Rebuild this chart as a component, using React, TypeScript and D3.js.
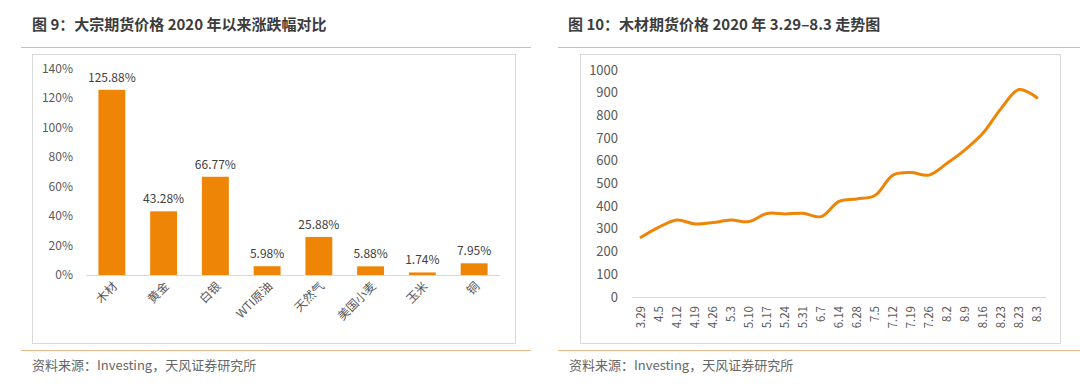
import React from "react";
import * as d3 from "d3";

const barCategories = ["木材", "黄金", "白银", "WTI原油", "天然气", "美国小麦", "玉米", "铜"];
const barValues = [125.88, 43.28, 66.77, 5.98, 25.88, 5.88, 1.74, 7.95];
const barTicks = [0, 20, 40, 60, 80, 100, 120, 140];

const lineDates = ["3.29", "4.5", "4.12", "4.19", "4.26", "5.3", "5.10", "5.17", "5.24", "5.31", "6.7", "6.14", "6.28", "7.5", "7.12", "7.19", "7.26", "8.2", "8.9", "8.16", "8.23", "8.23", "8.3"];
const lineValues = [263, 308, 339, 322, 328, 339, 332, 368, 366, 369, 354, 421, 432, 447, 537, 548, 537, 589, 648, 722, 830, 914, 878];
const lineTicks = [0, 100, 200, 300, 400, 500, 600, 700, 800, 900, 1000];

const ORANGE = "#EF8506";
const FONT = "'Noto Sans CJK SC', 'Noto Sans', sans-serif";

export default function App() {
  // left chart scales
  const xb = d3.scaleBand<number>().domain(d3.range(barCategories.length)).range([86, 500]).paddingInner(0.48).paddingOuter(0.24);
  const yb = d3.scaleLinear().domain([0, 140]).range([275, 69]);
  // right chart scales
  const xl = d3.scaleBand<number>().domain(d3.range(lineDates.length)).range([632, 1046]);
  const yl = d3.scaleLinear().domain([0, 1000]).range([297, 70]);
  const line = d3.line<number>().x((_, i) => xl(i)! + xl.bandwidth() / 2).y((d) => yl(d)).curve(d3.curveCatmullRom.alpha(0.5));

  return (
    <svg width={1080} height={388} style={{ position: "absolute", left: 0, top: 0, background: "#fff" }} fontFamily={FONT}>
      <rect x={0} y={0} width={1080} height={388} fill="#fff" />
      {/* Titles */}
      <text x={32} y={30} fontSize={15} fontWeight="bold" fill="#3c3c3c">图 9：大宗期货价格 2020 年以来涨跌幅对比</text>
      <text x={568} y={30} fontSize={15} fontWeight="bold" fill="#3c3c3c">图 10：木材期货价格 2020 年 3.29–8.3 走势图</text>
      {/* separator lines */}
      <line x1={21} x2={531} y1={47.5} y2={47.5} stroke="#E2B98A" strokeWidth={1.2} />
      <line x1={558} x2={1080} y1={47.5} y2={47.5} stroke="#E2B98A" strokeWidth={1.2} />
      <line x1={21} x2={531} y1={350.5} y2={350.5} stroke="#EDB98A" strokeWidth={1.2} />
      <line x1={558} x2={1080} y1={350.5} y2={350.5} stroke="#EDB98A" strokeWidth={1.2} />
      {/* boxes */}
      <rect x={32.5} y={54.5} width={483} height={289} fill="#fff" stroke="#D9D9D9" />
      <rect x={580.5} y={54.5} width={480} height={289} fill="#fff" stroke="#D9D9D9" />
      {/* sources */}
      <text x={32} y={370} fontSize={13} fill="#666">资料来源：Investing，天风证券研究所</text>
      <text x={569} y={370} fontSize={13} fill="#666">资料来源：Investing，天风证券研究所</text>

      {/* Left chart */}
      <g>
        {barTicks.map((t) => (
          <text key={t} x={73} y={yb(t) + 4} fontSize={12} fill="#595959" textAnchor="end">{t}%</text>
        ))}
        <line x1={86} x2={500} y1={275.5} y2={275.5} stroke="#D9D9D9" />
        {barValues.map((v, i) => (
          <rect key={i} x={xb(i)} y={yb(v)} width={xb.bandwidth()} height={yb(0) - yb(v)} fill={ORANGE} />
        ))}
        {barValues.map((v, i) => (
          <text key={"l" + i} x={xb(i)! + xb.bandwidth() / 2} y={yb(v) - 8} fontSize={12} fill="#404040" textAnchor="middle">{v.toFixed(2)}%</text>
        ))}
        {barCategories.map((c, i) => {
          const cx = xb(i)! + xb.bandwidth() / 2;
          return (
            <text key={c} transform={`translate(${cx + 6},${287}) rotate(-45)`} fontSize={12} fill="#595959" textAnchor="end">{c}</text>
          );
        })}
      </g>

      {/* Right chart */}
      <g>
        {lineTicks.map((t) => (
          <text key={t} x={618} y={yl(t) + 4.5} fontSize={13} fill="#595959" textAnchor="end">{t}</text>
        ))}
        <line x1={632} x2={1046} y1={297.5} y2={297.5} stroke="#D9D9D9" />
        <path d={line(lineValues) || ""} fill="none" stroke={ORANGE} strokeWidth={3} strokeLinecap="round" strokeLinejoin="round" />
        {lineDates.map((d, i) => {
          const cx = xl(i)! + xl.bandwidth() / 2;
          return (
            <text key={i} transform={`translate(${cx + 4},${306}) rotate(-90)`} fontSize={11.5} fill="#595959" textAnchor="end">{d}</text>
          );
        })}
      </g>
    </svg>
  );
}
